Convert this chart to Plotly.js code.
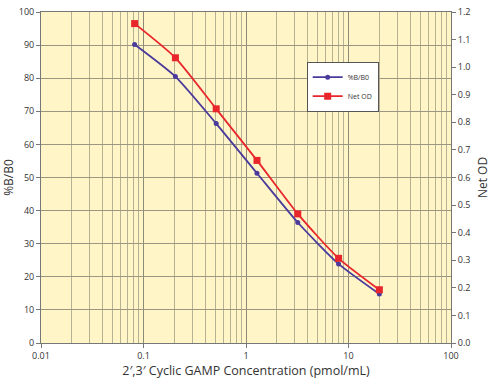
<!DOCTYPE html>
<html><head><meta charset="utf-8">
<script src="https://cdn.plot.ly/plotly-3.0.1.min.js"></script>
<style>html,body{margin:0;padding:0;background:#fff}#chart{width:499px;height:383px}</style>
</head><body><div id="chart"></div>
<script>
const concentrations = [0.08192, 0.2048, 0.512, 1.28, 3.2, 8, 20];
const percentBB0 = [90.2, 80.5, 66.3, 51.3, 36.4, 23.9, 14.8];
const netOD = [1.158, 1.034, 0.849, 0.662, 0.468, 0.307, 0.193];
const seriesNames = ['%B/B0', 'Net OD'];
const xTitle = "2\u2032,3\u2032 Cyclic GAMP Concentration (pmol/mL)";
const yTitle = '%B/B0';
const y2Title = 'Net OD';

const font = 'Open Sans, Lato, sans-serif';
const traces = [
  {x: concentrations, y: percentBB0, name: seriesNames[0], type: 'scatter', mode: 'lines+markers',
   line: {color: '#4a3a9c', width: 1.8, shape: 'spline', smoothing: 0.6},
   marker: {symbol: 'circle', size: 5, color: '#4a3a9c'}, yaxis: 'y'},
  {x: concentrations, y: netOD, name: seriesNames[1], type: 'scatter', mode: 'lines+markers',
   line: {color: '#e8262b', width: 1.8, shape: 'spline', smoothing: 0.6},
   marker: {symbol: 'square', size: 7, color: '#e8262b'}, yaxis: 'y2'}
];
const layout = {
  width: 499, height: 383,
  margin: {l: 41, r: 48, t: 12, b: 40},
  paper_bgcolor: '#ffffff', plot_bgcolor: '#fff5c7',
  font: {family: font, size: 9, color: '#333'},
  showlegend: true,
  legend: {x: 0.648, y: 0.85, xanchor: 'left', yanchor: 'top', bgcolor: '#ffffff',
           bordercolor: '#555', borderwidth: 1, font: {size: 7, color: '#333'},
           itemwidth: 30, tracegroupgap: 0},
  xaxis: {type: 'log', range: [-2, 2],
          tickvals: [0.01, 0.1, 1, 10, 100], ticktext: ['0.01', '0.1', '1', '10', '100'],
          ticks: 'outside', ticklen: 4, tickcolor: '#777',
          showgrid: true, gridcolor: '#8e8a78', gridwidth: 1,
          minor: {tickvals: [0.02,0.03,0.04,0.05,0.06,0.07,0.08,0.09,0.2,0.3,0.4,0.5,0.6,0.7,0.8,0.9,2,3,4,5,6,7,8,9,20,30,40,50,60,70,80,90],
                  showgrid: true, gridcolor: '#b7b194', gridwidth: 1, ticks: ''},
          showline: true, linecolor: '#777', linewidth: 1, mirror: true,
          tickfont: {size: 9, color: '#333'},
          title: {text: xTitle, font: {size: 12.5, color: '#333'}, standoff: 5},
          zeroline: false},
  yaxis: {range: [0, 100], dtick: 10, ticks: 'outside', ticklen: 4, tickcolor: '#777',
          showgrid: true, gridcolor: '#9a9682', gridwidth: 1,
          showline: true, linecolor: '#777', linewidth: 1,
          tickfont: {size: 9, color: '#333'},
          title: {text: yTitle, font: {size: 12, color: '#333'}, standoff: 7},
          zeroline: false},
  yaxis2: {range: [0, 1.2], dtick: 0.1, tickformat: '.1f', overlaying: 'y', side: 'right',
           ticks: 'outside', ticklen: 4, tickcolor: '#777', showgrid: false,
           showline: true, linecolor: '#777', linewidth: 1,
           tickfont: {size: 9, color: '#333'},
           title: {text: y2Title, font: {size: 12, color: '#333'}, standoff: 9},
           zeroline: false}
};
Plotly.newPlot('chart', traces, layout, {displayModeBar: false, staticPlot: true});
</script></body></html>
